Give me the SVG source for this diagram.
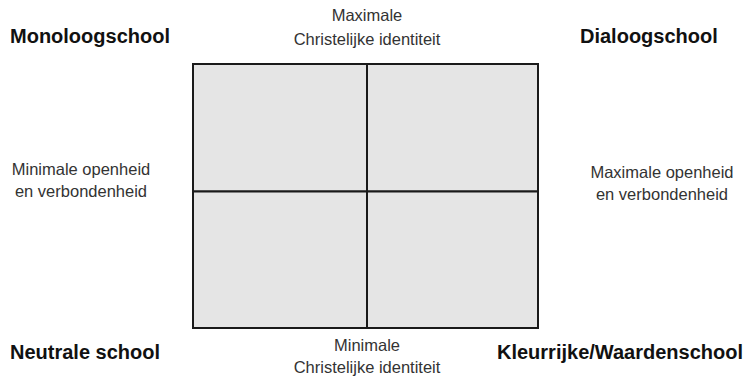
<svg xmlns="http://www.w3.org/2000/svg" width="746" height="376" viewBox="0 0 746 376">
  <style>
    .cell { fill: #e5e5e5; stroke: #1a1a1a; stroke-width: 2; }
    .title { font-family: "Liberation Sans", Arial, sans-serif; font-weight: bold; font-size: 20px; fill: #111; }
    .axis { font-family: "Liberation Sans", Arial, sans-serif; font-size: 16.5px; fill: #333; text-anchor: middle; }
  </style>
  <rect width="746" height="376" fill="#ffffff"/>
  <g id="grid">
    <g id="q-top-left"><rect class="cell" x="193" y="64" width="174" height="127.5"/></g>
    <g id="q-top-right"><rect class="cell" x="367" y="64" width="171" height="127.5"/></g>
    <g id="q-bottom-left"><rect class="cell" x="193" y="191.5" width="174" height="136.5"/></g>
    <g id="q-bottom-right"><rect class="cell" x="367" y="191.5" width="171" height="136.5"/></g>
  </g>
  <g id="monoloogschool"><text class="title" x="10" y="43">Monoloogschool</text></g>
  <g id="dialoogschool"><text class="title" x="580" y="43">Dialoogschool</text></g>
  <g id="neutrale-school"><text class="title" x="10" y="359">Neutrale school</text></g>
  <g id="kleurrijke-school"><text class="title" x="497" y="359">Kleurrijke/Waardenschool</text></g>
  <g id="axis-top">
    <text class="axis" x="367" y="21">Maximale</text>
    <text class="axis" x="367" y="45">Christelijke identiteit</text>
  </g>
  <g id="axis-bottom">
    <text class="axis" x="367" y="351">Minimale</text>
    <text class="axis" x="367" y="373">Christelijke identiteit</text>
  </g>
  <g id="axis-left">
    <text class="axis" x="81" y="175">Minimale openheid</text>
    <text class="axis" x="81" y="197">en verbondenheid</text>
  </g>
  <g id="axis-right">
    <text class="axis" x="662" y="178">Maximale openheid</text>
    <text class="axis" x="662" y="200">en verbondenheid</text>
  </g>
</svg>
